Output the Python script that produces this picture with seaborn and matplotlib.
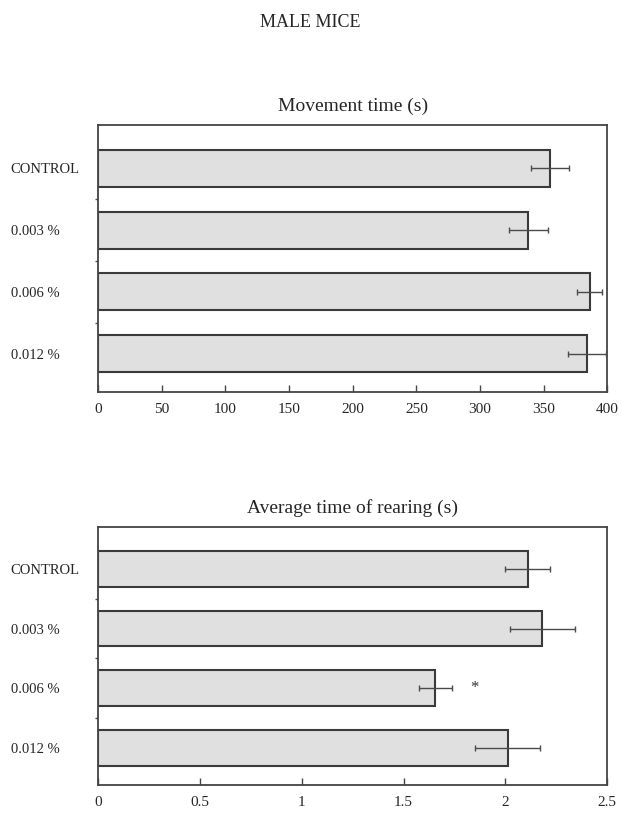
"""Male mice: movement time and average rearing time by dose (horizontal bars)."""

import matplotlib

matplotlib.use("Agg")
import matplotlib.pyplot as plt
import numpy as np
import pandas as pd
import seaborn as sns
from matplotlib.ticker import FixedLocator

groups = ["CONTROL", "0.003 %", "0.006 %", "0.012 %"]

movement_mean = [355, 338, 386, 384]
movement_err = [15, 15, 10, 15]

rearing_mean = [2.11, 2.18, 1.655, 2.01]
rearing_err = [0.11, 0.16, 0.08, 0.16]
rearing_star = ["", "", "*", ""]

movement_ticks = [0, 50, 100, 150, 200, 250, 300, 350, 400]
rearing_ticks = [0, 0.5, 1, 1.5, 2, 2.5]
rearing_tick_labels = ["0", "0.5", "1", "1.5", "2", "2.5"]

sns.set_theme(style="white")
plt.rcParams["font.family"] = ["Liberation Serif", "DejaVu Serif"]

BAR_FILL = "#e0e0e0"
EDGE = "#3a3a3a"
ERR = "#4a4a4a"


def draw_panel(ax, means, errs, title, xmax, ticks, tick_labels=None, stars=None):
    df = pd.DataFrame({"group": groups, "value": means})
    sns.barplot(
        data=df,
        x="value",
        y="group",
        orient="h",
        ax=ax,
        color=BAR_FILL,
        edgecolor=EDGE,
        linewidth=1.5,
        width=0.6,
        saturation=1,
    )
    ypos = np.arange(len(groups))
    ax.errorbar(
        means, ypos, xerr=errs, fmt="none", ecolor=ERR,
        elinewidth=1.0, capsize=2.5, capthick=1.0, zorder=5,
    )
    if stars:
        for y, m, e, s in zip(ypos, means, errs, stars):
            if s:
                ax.text(m + e + 0.11, y, s, ha="center", va="center",
                        fontsize=12, color="#333333")

    ax.set_xlim(0, xmax)
    ax.set_ylim(3.62, -0.70)
    ax.set_xlabel("")
    ax.set_ylabel("")
    ax.set_title(title, fontsize=14, pad=10)

    ax.set_xticks(ticks)
    if tick_labels is not None:
        ax.set_xticklabels(tick_labels)
    ax.tick_params(axis="x", direction="in", length=5, width=1, color="#444444",
                   labelsize=11, pad=8, bottom=True)
    # left-aligned group labels starting near the figure edge
    ax.tick_params(axis="y", which="major", length=0, labelsize=10.5, pad=63)
    for lbl in ax.get_yticklabels():
        lbl.set_horizontalalignment("left")
    ax.yaxis.set_minor_locator(FixedLocator([0.5, 1.5, 2.5]))
    ax.tick_params(axis="y", which="minor", direction="out", length=2.5,
                   width=1, color="#555555", left=True)

    for spine in ax.spines.values():
        spine.set_visible(True)
        spine.set_linewidth(1.3)
        spine.set_color("#444444")
    ax.grid(False)


fig = plt.figure(figsize=(6.21, 8.14), dpi=100)
ax1 = fig.add_axes([0.158, 0.5184, 0.82, 0.328])
ax2 = fig.add_axes([0.158, 0.0356, 0.82, 0.317])

draw_panel(ax1, movement_mean, movement_err, "Movement time (s)", 400, movement_ticks)
draw_panel(ax2, rearing_mean, rearing_err, "Average time of rearing (s)", 2.5,
           rearing_ticks, rearing_tick_labels, rearing_star)

fig.text(0.5, 0.972, "MALE MICE", ha="center", va="center", fontsize=13)

fig.savefig("out.png", dpi=100, facecolor="white")
plt.close(fig)
